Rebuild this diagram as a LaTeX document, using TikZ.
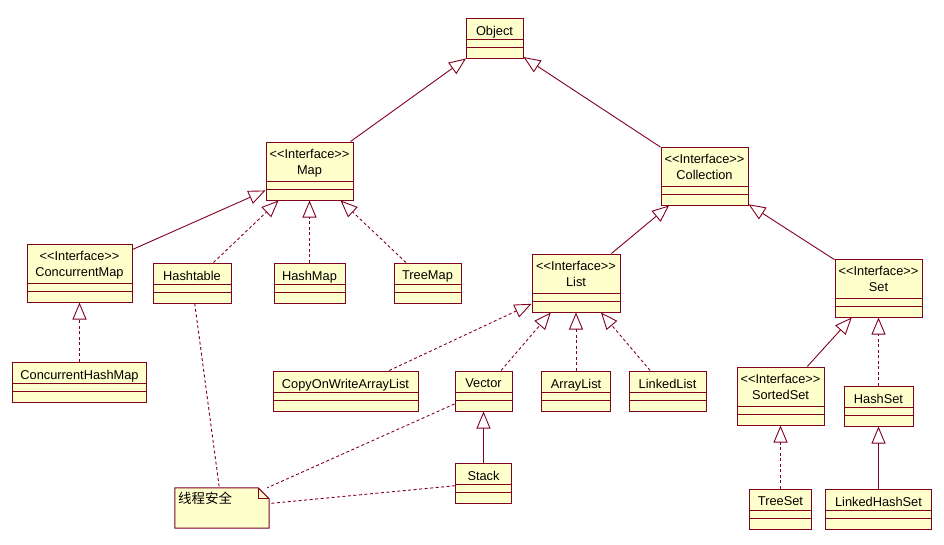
\documentclass[tikz,border=0pt]{standalone}
\usepackage{fontspec}
\setmainfont{Liberation Sans}
\newfontfamily\cjk{Noto Sans CJK SC}
\usetikzlibrary{arrows.meta, backgrounds}
\definecolor{roseLine}{HTML}{800020}
\definecolor{roseFill}{HTML}{FFFFCC}

\newcommand{\clstext}[1]{#1\rule[-15pt]{0pt}{15pt}}
\newcommand{\ifctext}[1]{<{}<Interface>{}>\\#1\rule[-18pt]{0pt}{18pt}}

\begin{document}
\begin{tikzpicture}[
  x=1pt, y=-1pt,
  every node/.style={font=\fontsize{12.8}{16}\selectfont},
  umlclass/.style={
    rectangle,
    draw=roseLine,
    fill=roseFill,
    line width=1pt,
    inner sep=0pt,
    align=center,
    minimum height=40,
    path picture={
      \draw[roseLine, line width=1pt]
        ([yshift=19pt]path picture bounding box.south west) -- ([yshift=19pt]path picture bounding box.south east)
        ([yshift=11pt]path picture bounding box.south west) -- ([yshift=11pt]path picture bounding box.south east);
    }
  },
  iface/.style={umlclass, minimum height=58},
  extends/.style={
    -{Triangle[open, length=17pt, width=14pt]},
    draw=roseLine,
    line width=0.9pt
  },
  implements/.style={extends, dash pattern=on 3pt off 2.5pt},
  notelink/.style={draw=roseLine, line width=0.9pt, dash pattern=on 3pt off 2.5pt},
  notebox/.style={
    rectangle,
    inner sep=0pt,
    minimum width=94,
    minimum height=40,
    text width=88pt,
    align=left,
    font=\cjk\fontsize{13.5}{16}\selectfont
  }
]
  \useasboundingbox (0,0) rectangle (944,544);

  % Define nodes
  \node[umlclass, minimum width=57] (obj) at (494.5,38) {\clstext{Object}};
  \node[iface, minimum width=87] (map) at (309.5,171) {\ifctext{Map}};
  \node[iface, minimum width=87] (coll) at (704.5,176) {\ifctext{Collection}};
  \node[iface, minimum width=105] (cmap) at (79.5,273) {\ifctext{ConcurrentMap}};
  \node[umlclass, minimum width=78] (htable) at (192,283) {\clstext{Hashtable}};
  \node[umlclass, minimum width=71] (hmap) at (309.5,283) {\clstext{HashMap}};
  \node[umlclass, minimum width=67] (tmap) at (427.5,283) {\clstext{TreeMap}};
  \node[umlclass, minimum width=134] (chmap) at (79.5,382) {\clstext{ConcurrentHashMap}};
  \node[iface, minimum width=88] (list) at (576,283) {\ifctext{List}};
  \node[iface, minimum width=87] (set) at (878.5,288) {\ifctext{Set}};
  \node[umlclass, minimum width=145] (cow) at (345.5,391) {\clstext{CopyOnWriteArrayList}};
  \node[umlclass, minimum width=57] (vec) at (483.5,391) {\clstext{Vector}};
  \node[umlclass, minimum width=69] (alist) at (576,391) {\clstext{ArrayList}};
  \node[umlclass, minimum width=77] (llist) at (667.5,391) {\clstext{LinkedList}};
  \node[iface, minimum width=87] (sset) at (780.5,396) {\ifctext{SortedSet}};
  \node[umlclass, minimum width=69] (hset) at (878.5,406) {\clstext{HashSet}};
  \node[umlclass, minimum width=62] (tset) at (780.5,509) {\clstext{TreeSet}};
  \node[umlclass, minimum width=106] (lhset) at (878.5,509) {\clstext{LinkedHashSet}};
  \node[umlclass, minimum width=56] (stack) at (483.5,483) {\clstext{Stack}};
  \node[notebox] (note) at (222,508) {线程安全\rule[-21pt]{0pt}{21pt}};

  % Note outline with folded corner
  \begin{scope}[on background layer]
    \draw[draw=roseLine, fill=roseFill, line width=1pt]
      (note.north west) -- ([xshift=-11pt]note.north east) -- ([yshift=-11pt]note.north east)
      -- (note.south east) -- (note.south west) -- cycle;
    \draw[roseLine, line width=1pt] ([xshift=-11pt]note.north east) |- ([yshift=-11pt]note.north east);
  \end{scope}

  % Connect nodes with arrows
  \draw[extends] (map) -- (obj);
  \draw[extends] (coll) -- (obj);
  \draw[extends] (cmap) -- (map);
  \draw[implements] (htable) -- (map);
  \draw[implements] (hmap) -- (map);
  \draw[implements] (tmap) -- (map);
  \draw[implements] (chmap) -- (cmap);
  \draw[extends] (list) -- (coll);
  \draw[extends] (set) -- (coll);
  \draw[implements] (cow) -- (list);
  \draw[implements] (vec) -- (list);
  \draw[implements] (alist) -- (list);
  \draw[implements] (llist) -- (list);
  \draw[extends] (stack) -- (vec);
  \draw[extends] (sset) -- (set);
  \draw[implements] (hset) -- (set);
  \draw[implements] (tset) -- (sset);
  \draw[extends] (lhset) -- (hset);

  % Note links
  \draw[notelink] (htable) -- (note);
  \draw[notelink] (vec) -- (note);
  \draw[notelink] (stack) -- (note);
\end{tikzpicture}
\end{document}
